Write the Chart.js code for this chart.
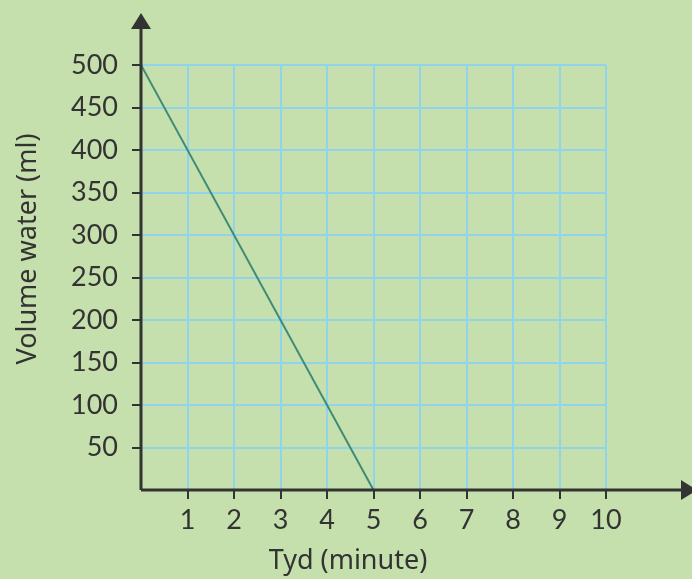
<!DOCTYPE html>
<html>
<head>
<meta charset="utf-8">
<script src="https://cdn.jsdelivr.net/npm/chart.js@4"></script>
<style>
  html, body { margin: 0; padding: 0; background: #c5e0ad; }
  #wrap { width: 692px; height: 579px; }
</style>
</head>
<body>
<div id="wrap"><canvas id="myChart" width="692" height="579"></canvas></div>
<script>
const ctx = document.getElementById('myChart').getContext('2d');

// data
var tyd = [0, 5];
var volume = [500, 0];
var xTicks = [1, 2, 3, 4, 5, 6, 7, 8, 9, 10];
var yTicks = [50, 100, 150, 200, 250, 300, 350, 400, 450, 500];
var xTitle = 'Tyd (minute)';
var yTitle = 'Volume water (ml)';

var ink = '#333333';
var gridBlue = '#8fd4ec';
var fontFam = 'Lato, "Noto Sans", sans-serif';
var titleFam = '"Noto Sans", Lato, sans-serif';

// axes with arrows + axis titles
const axisPlugin = {
    id: 'axisPlugin',
    afterDraw(chart) {
        const c = chart.ctx;
        const x0 = chart.scales.x.getPixelForValue(0);
        const y0 = chart.scales.y.getPixelForValue(0);
        c.save();
        c.strokeStyle = ink;
        c.fillStyle = ink;
        c.lineWidth = 3;
        c.beginPath();
        c.moveTo(x0, y0);
        c.lineTo(x0, 28);
        c.moveTo(x0, y0);
        c.lineTo(684, y0);
        c.stroke();
        // arrow heads
        c.beginPath();
        c.moveTo(x0, 13);
        c.lineTo(x0 - 10, 29);
        c.lineTo(x0 + 10, 29);
        c.closePath();
        c.fill();
        c.beginPath();
        c.moveTo(697, y0);
        c.lineTo(681, y0 - 10);
        c.lineTo(681, y0 + 10);
        c.closePath();
        c.fill();
        // titles
        c.font = '27px ' + titleFam;
        c.textAlign = 'center';
        c.textBaseline = 'middle';
        c.fillText(xTitle, 348, 561);
        c.translate(28, 249);
        c.rotate(-Math.PI / 2);
        c.fillText(yTitle, 0, 0);
        c.restore();
    }
};

const myChart = new Chart(ctx, {
    type: 'line',
    data: {
        datasets: [{
            data: tyd.map((t, i) => ({ x: t, y: volume[i] })),
            borderColor: '#3f8a78',
            borderWidth: 2,
            pointRadius: 0,
            tension: 0,
            fill: false
        }]
    },
    options: {
        responsive: false,
        animation: false,
        layout: { padding: { top: 65, right: 86, left: 0, bottom: 0 } },
        plugins: {
            legend: { display: false },
            tooltip: { enabled: false }
        },
        scales: {
            x: {
                type: 'linear',
                min: 0,
                max: 10,
                afterFit(scale) { scale.height = 89; },
                afterBuildTicks(scale) { scale.ticks = [0].concat(xTicks).map(v => ({ value: v })); },
                ticks: {
                    color: ink,
                    font: { family: fontFam, size: 27 },
                    padding: 5,
                    maxRotation: 0,
                    callback: v => v === 0 ? '' : v
                },
                grid: {
                    color: c => c.tick && c.tick.value === 0 ? 'rgba(0,0,0,0)' : gridBlue,
                    tickColor: c => c.tick && c.tick.value === 0 ? 'rgba(0,0,0,0)' : ink,
                    lineWidth: 2,
                    tickWidth: 2,
                    tickLength: 9
                },
                border: { display: false }
            },
            y: {
                min: 0,
                max: 500,
                afterFit(scale) { scale.width = 141; },
                afterBuildTicks(scale) { scale.ticks = [0].concat(yTicks).map(v => ({ value: v })); },
                ticks: {
                    color: ink,
                    font: { family: fontFam, size: 27 },
                    padding: 14,
                    callback: v => v === 0 ? '' : v
                },
                grid: {
                    color: c => c.tick && c.tick.value === 0 ? 'rgba(0,0,0,0)' : gridBlue,
                    tickColor: c => c.tick && c.tick.value === 0 ? 'rgba(0,0,0,0)' : ink,
                    lineWidth: 2,
                    tickWidth: 2,
                    tickLength: 9
                },
                border: { display: false }
            }
        }
    },
    plugins: [axisPlugin]
});
</script>
</body>
</html>
